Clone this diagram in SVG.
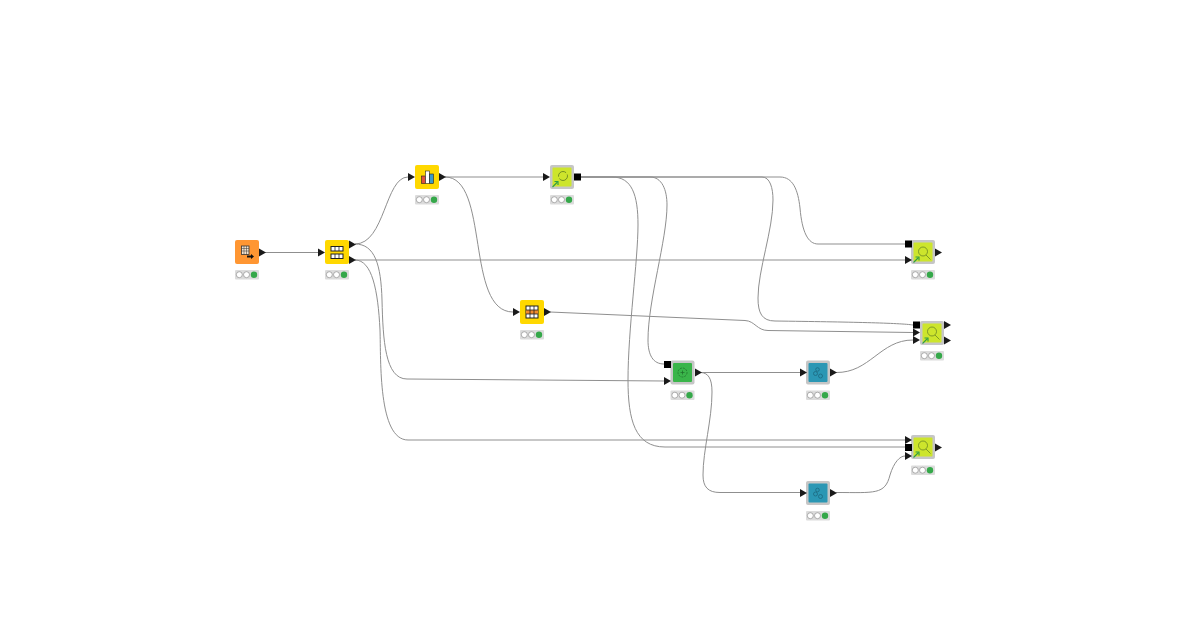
<svg xmlns="http://www.w3.org/2000/svg" width="1200" height="630" viewBox="0 0 1200 630">
<style>
.c{fill:none;stroke:#8f8f8f;stroke-width:1}
.p{fill:#1a1a1a}
.s{fill:#000}
.g{fill:#c6c6c6}
.b{fill:#dcdcdc}
.d{fill:#fff;stroke:#8f8f8f;stroke-width:.7}
.ok{fill:#35a84a}
.i{fill:none;stroke:#1d6a80;stroke-width:.8}
.a{fill:none;stroke:#2f9e44;stroke-width:1.1}
.lime{fill:#cde52c}
.teal{fill:#2b97b4}
</style>
<defs>
<g id="st"><rect x="-12" y="0" width="24" height="9.500" rx="1" class="b"/><circle cx="-7.700" cy="4.700" r="3" class="d"/><circle cx="-0.500" cy="4.700" r="3" class="d"/><circle cx="7" cy="4.700" r="3.200" class="ok"/></g>
<path id="t" d="M0-4L7 0L0 4Z" class="p"/>
<g id="mg"><path d="M-7 7L-2 2" class="a"/><path d="M-5 1.500H-1.500V5" class="a"/></g>
<g id="lens"><circle cx="-0.500" cy="-1.500" r="4.500" fill="none" stroke="#5d7a22" stroke-width=".7"/><path d="M2.500 2L7 6.500" stroke="#5d7a22" stroke-width=".7"/></g>
<rect id="gray" x="-12" y="-12" width="24" height="24" rx="2" class="g"/>
<g id="gears"><circle cx="-2.500" cy="1" r="2" class="i"/><circle cx="2.500" cy="3.500" r="2" class="i"/><circle cx="-0.500" cy="-3" r="1.800" class="i"/></g>
</defs>

<g id="connectors">
<path class="c" d="M265 252.500H318"/>
<path class="c" d="M355 244C385 244 385 177 408 177"/>
<path class="c" d="M355 260H905"/>
<path class="c" d="M355 244C375 244 381 265 382 300C383 340 385 379 407 379L665 381"/>
<path class="c" d="M355 260C372 260 378 290 380 330C381 360 378 440 408 440H905"/>
<path class="c" d="M445 177H543"/>
<path class="c" d="M445 177C490 177 465 312 513 312"/>
<path class="c" d="M581 177H780C793 177 798 190 800 208C802 232 808 244 818 244H905"/>
<path class="c" d="M581 177H762C770 177 773 188 773 200C773 230 758 270 758 298C758 313 762 321 775 321C850 322 900 323 913 325"/>
<path class="c" d="M581 177H650C662 177 667 190 667 205C667 240 648 300 648 340C648 355 653 364 664 364"/>
<path class="c" d="M581 177H612C632 177 638 195 638 225C638 260 628 330 628 380C628 420 635 447 665 447H905"/>
<path class="c" d="M550 312L745 320.500C755 321 757 330.500 768 330.500L913 332.500"/>
<path class="c" d="M701 372.500H800"/>
<path class="c" d="M701 372.500C708 373 712 378 712 392C712 420 703 450 703 475C703 487 708 492.500 720 492.500H800"/>
<path class="c" d="M836 372.500C870 373 880 340 913 340"/>
<path class="c" d="M836 492.500C875 492.500 885 495 890 475C894 462 900 456 905 456"/>
</g>

<g id="node-source"><rect x="235" y="240" width="24" height="24" rx="2" fill="#ff9632"/><rect x="241.500" y="246" width="7.500" height="8.500" fill="#f4e4d0" stroke="#333" stroke-width=".8"/><path d="M241.500 248.500h7.500M241.500 251h7.500M244 246v8.500M246.500 246v8.500" stroke="#333" stroke-width=".5"/><path d="M247 255.500h4v-1.500l3 2.500l-3 2.500v-1.500h-4z" fill="#111"/><use href="#t" x="259" y="252.500"/><use href="#st" x="247" y="270"/></g>

<g id="node-split"><rect x="325" y="240" width="24" height="24" rx="2" fill="#ffd800"/><rect x="331" y="246.500" width="12" height="4.500" fill="#fff" stroke="#222"/><rect x="331" y="254" width="12" height="4.500" fill="#fff" stroke="#222"/><path d="M335 246.500v4.500M339 246.500v4.500M335 254v4.500M339 254v4.500" stroke="#222" stroke-width=".8"/><use href="#t" x="318" y="252.500"/><use href="#t" x="349" y="244.500"/><use href="#t" x="349" y="260"/><use href="#st" x="337" y="270"/></g>

<g id="node-chart"><rect x="415" y="165" width="24" height="24" rx="2" fill="#ffd800"/><rect x="421.500" y="176" width="4" height="7.500" fill="#e0503c" stroke="#222" stroke-width=".6"/><rect x="425.500" y="171" width="4" height="12.500" fill="#fff" stroke="#222" stroke-width=".6"/><rect x="429.500" y="174" width="4" height="9.500" fill="#3d9ac9" stroke="#222" stroke-width=".6"/><use href="#t" x="408" y="177"/><use href="#t" x="439" y="177"/><use href="#st" x="427" y="195"/></g>

<g id="node-meta-top"><use href="#gray" x="562" y="177"/><rect x="552.500" y="167.500" width="19" height="19" rx="1" class="lime"/><circle cx="563" cy="176" r="4.500" fill="none" stroke="#5d7a22" stroke-width=".8" stroke-dasharray="11 2"/><use href="#mg" x="559.500" y="180"/><use href="#t" x="543" y="177"/><rect x="574" y="173.500" width="7" height="7" class="s"/><use href="#st" x="562" y="195"/></g>

<g id="node-table"><rect x="520" y="300" width="24" height="24" rx="2" fill="#ffd800"/><rect x="526" y="306" width="12" height="12" fill="#fff" stroke="#222"/><rect x="526" y="310" width="12" height="4" fill="#f08a30"/><path d="M526 310h12M526 314h12M530 306v12M534 306v12" stroke="#222" stroke-width=".8"/><use href="#t" x="513" y="312"/><use href="#t" x="544" y="312"/><use href="#st" x="532" y="330"/></g>

<g id="node-cluster"><use href="#gray" x="682.500" y="372.500"/><rect x="673" y="363" width="19" height="19" rx="1" fill="#3ab54a"/><circle cx="682.500" cy="372.500" r="4.500" fill="none" stroke="#1e6b2a" stroke-width=".7" stroke-dasharray="2 1"/><path d="M680.500 372.500h4M682.500 370.500v4" stroke="#1e6b2a" stroke-width=".7"/><rect x="664" y="361" width="7" height="7" class="s"/><use href="#t" x="664" y="381"/><use href="#t" x="695" y="372.500"/><use href="#st" x="682.500" y="390.500"/></g>

<g id="node-teal-a"><use href="#gray" x="818" y="372.500"/><rect x="808.500" y="363" width="19" height="19" rx="1" class="teal"/><use href="#gears" x="818" y="372.500"/><use href="#t" x="800" y="372.500"/><use href="#t" x="830" y="372.500"/><use href="#st" x="818" y="390.500"/></g>

<g id="node-teal-b"><use href="#gray" x="818" y="493"/><rect x="808.500" y="483.500" width="19" height="19" rx="1" class="teal"/><use href="#gears" x="818" y="493"/><use href="#t" x="800" y="493"/><use href="#t" x="830" y="493"/><use href="#st" x="818" y="511"/></g>

<g id="node-view-a"><use href="#gray" x="923" y="252"/><rect x="913.500" y="242.500" width="19" height="19" rx="1" class="lime"/><use href="#lens" x="923.500" y="253"/><use href="#mg" x="920.500" y="255.500"/><use href="#t" x="905" y="260"/><rect x="905" y="240.500" width="7" height="7" class="s"/><use href="#t" x="935" y="252.500"/><use href="#st" x="923" y="270"/></g>

<g id="node-view-b"><use href="#gray" x="932" y="333"/><rect x="922.500" y="323.500" width="19" height="19" rx="1" class="lime"/><use href="#lens" x="932.500" y="333"/><use href="#mg" x="929.500" y="336.500"/><rect x="913" y="321.500" width="7" height="7" class="s"/><use href="#t" x="913" y="332.500"/><use href="#t" x="913" y="340"/><use href="#t" x="944" y="325"/><use href="#t" x="944" y="340.500"/><use href="#st" x="932" y="351"/></g>

<g id="node-view-c"><use href="#gray" x="923" y="447"/><rect x="913.500" y="437.500" width="19" height="19" rx="1" class="lime"/><use href="#lens" x="923.500" y="447"/><use href="#mg" x="920.500" y="450.500"/><use href="#t" x="905" y="440"/><rect x="905" y="444" width="7" height="7" class="s"/><use href="#t" x="905" y="456"/><use href="#t" x="935" y="447.500"/><use href="#st" x="923" y="465.500"/></g>
</svg>
